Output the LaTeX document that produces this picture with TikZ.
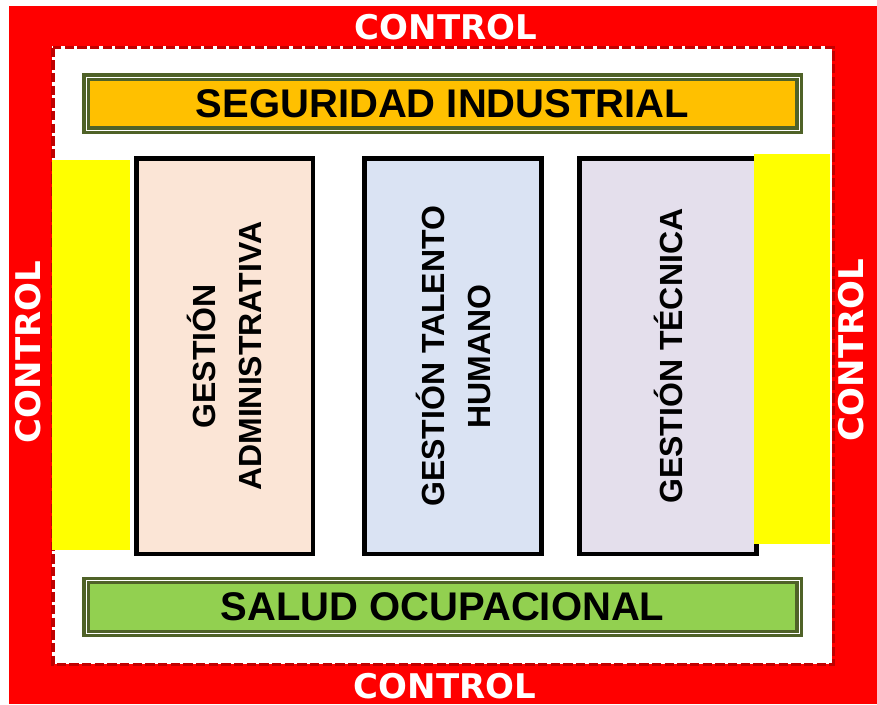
\documentclass[tikz,border=0pt]{standalone}
\usepackage{fontspec}
\setmainfont{Liberation Sans}
\newfontfamily\ctrlfont{DejaVu Sans}
\usepackage{tikz}
\usetikzlibrary{calc}

\definecolor{ctrlred}{HTML}{FF0000}
\definecolor{dashred}{HTML}{C00000}
\definecolor{olivedark}{HTML}{4F6228}
\definecolor{segyellow}{HTML}{FFC000}
\definecolor{saludgreen}{HTML}{92D050}
\definecolor{adminfill}{HTML}{FBE5D6}
\definecolor{talentofill}{HTML}{DAE3F3}
\definecolor{tecnicafill}{HTML}{E4DFEC}
\definecolor{sideyellow}{HTML}{FFFF00}

\tikzset{
  ctrl/.style={text=white, inner sep=0pt, font=\ctrlfont\bfseries\fontsize{25.5}{30}\selectfont},
  banner/.style={draw=olivedark, double=white, double distance=0.7pt, line width=2.6pt,
    minimum width=534.75pt, minimum height=39.75pt, inner sep=0pt,
    font=\bfseries\fontsize{30}{36}\selectfont},
  gestion/.style={draw=black, line width=3.4pt, rotate=90, align=center, inner sep=0pt,
    minimum width=296.6pt, minimum height=132.4pt,
    font=\bfseries\fontsize{24}{34.5}\selectfont}
}

\begin{document}
\begin{tikzpicture}[x=0.75pt,y=-0.75pt]
  \useasboundingbox (0,0) rectangle (877,704);
  % marco de control
  \fill[ctrlred] (9,6) rectangle (877,704);
  \fill[white] (52,46) rectangle (832,664);
  \draw[dashred, line width=2.3pt, dash pattern=on 7pt off 2.5pt] (53,47.5) rectangle (833.5,664.5);
  \node[ctrl] (ctrltop) at (446,27.5) {CONTROL};
  \node[ctrl] (ctrlbot) at (445,686) {CONTROL};
  \node[ctrl, rotate=90] (ctrlizq) at (28,352) {CONTROL};
  \node[ctrl, rotate=90] (ctrlder) at (851,350) {CONTROL};
  % franjas
  \node[banner, fill=segyellow] (seguridad) at (442.5,103.5) {SEGURIDAD INDUSTRIAL};
  \node[banner, fill=saludgreen] (salud) at (442.5,607) {SALUD OCUPACIONAL};
  % gestiones
  \node[gestion, fill=adminfill] (admin) at (224.75,356.25) {GESTIÓN\\ADMINISTRATIVA};
  \node[gestion, fill=talentofill] (talento) at (453,356.25) {GESTIÓN TALENTO\\HUMANO};
  \node[gestion, fill=tecnicafill] (tecnica) at (668,356.25) {GESTIÓN TÉCNICA};
  % barras laterales
  \fill[sideyellow] (52,160) rectangle (130,550);
  \fill[sideyellow] (754,154) rectangle (830,544);
\end{tikzpicture}
\end{document}
